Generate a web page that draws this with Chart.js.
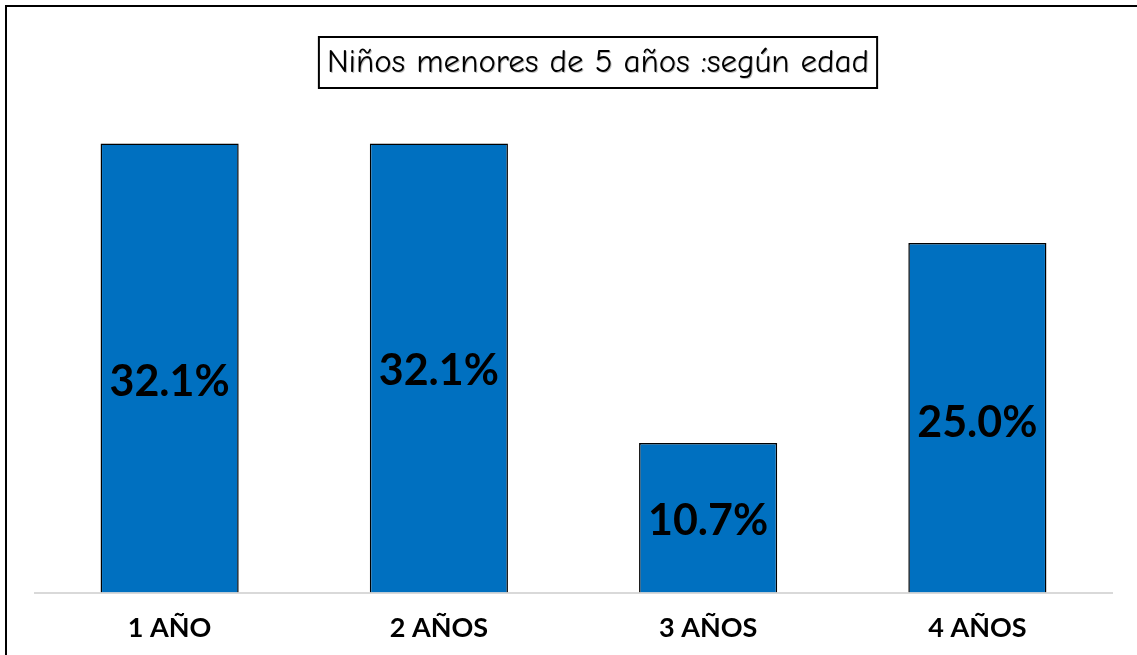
<!DOCTYPE html>
<html>
<head>
<meta charset="utf-8">
<script src="https://cdn.jsdelivr.net/npm/chart.js@4.4.1/dist/chart.umd.min.js"></script>
<style>
    html, body { margin:0; padding:0; background:#fff; overflow:hidden; }
    #marco {
        position:absolute; left:5px; top:5px;
        width:1200px; height:700px;
        border-left:2px solid #000; border-top:2px solid #000;
    }
    #wrap { position:absolute; left:0; top:0; width:1137px; height:655px; }
</style>
</head>
<body>
<div id="marco"></div>
<div id="wrap"><canvas id="chartEdad"></canvas></div>
<script>
// datos
var edades      =   ['1 AÑO', '2 AÑOS', '3 AÑOS', '4 AÑOS'];
var porcentajes =   [32.1, 32.1, 10.7, 25.0];
var titulo      =   'Niños menores de 5 años :según edad';

// titulo con recuadro
var tituloPlugin = {
    id: 'tituloCaja',
    afterDraw: function (chart) {
        var ctx = chart.ctx;
        ctx.save();
        ctx.font = '33px "Comic Sans MS", "Comic Neue", "Noto Sans", sans-serif';
        ctx.textAlign = 'center';
        ctx.textBaseline = 'middle';
        var cx = 598, cy = 63;
        var w = ctx.measureText(titulo).width + 16;
        ctx.fillStyle = '#fff';
        ctx.fillRect(cx - w / 2, 37, w, 51);
        ctx.lineWidth = 2;
        ctx.strokeStyle = '#000';
        ctx.strokeRect(cx - w / 2, 37, w, 51);
        ctx.fillStyle = 'rgba(0,0,0,0.25)';
        ctx.fillText(titulo, cx + 1, cy + 1);
        ctx.fillStyle = '#000';
        ctx.fillText(titulo, cx, cy);
        ctx.restore();
    }
};

// etiquetas de valor dentro de las barras
var desplazamiento = [14, 3, 3, 5];
var etiquetasPlugin = {
    id: 'etiquetas',
    afterDatasetsDraw: function (chart) {
        var ctx = chart.ctx;
        var meta = chart.getDatasetMeta(0);
        ctx.save();
        ctx.font = 'bold 43px Lato, "Noto Sans", sans-serif';
        ctx.fillStyle = '#000';
        ctx.textAlign = 'center';
        ctx.textBaseline = 'middle';
        meta.data.forEach(function (bar, i) {
            var y = (bar.y + bar.base) / 2 + desplazamiento[i];
            ctx.fillText(porcentajes[i].toFixed(1) + '%', bar.x, y);
        });
        ctx.restore();
    }
};

var ctxEdad = document.getElementById('chartEdad').getContext('2d');
new Chart(ctxEdad, {
    type: 'bar',
    data: {
        labels: edades,
        datasets: [{
            data: porcentajes,
            backgroundColor :   '#0070C0',
            borderColor     :   '#000000',
            borderWidth     :   1.5,
            barPercentage   :   0.513,
            categoryPercentage : 1
        }]
    },
    options: {
        responsive: true,
        maintainAspectRatio: false,
        animation: false,
        layout: { padding: { top: 103, left: 35, right: 25, bottom: -8 } },
        plugins: {
            legend: { display: false },
            tooltip: { enabled: false },
            title: { display: false }
        },
        scales: {
            x: {
                grid: { display: false, drawTicks: false },
                border: { display: true, color: '#d9d9d9', width: 2 },
                ticks: {
                    color: '#000',
                    padding: 19,
                    font: { family: 'Lato, "Noto Sans", sans-serif', size: 27, weight: 'bold' }
                }
            },
            y: {
                display: false,
                min: 0,
                max: 35
            }
        }
    },
    plugins: [tituloPlugin, etiquetasPlugin]
});
</script>
</body>
</html>
